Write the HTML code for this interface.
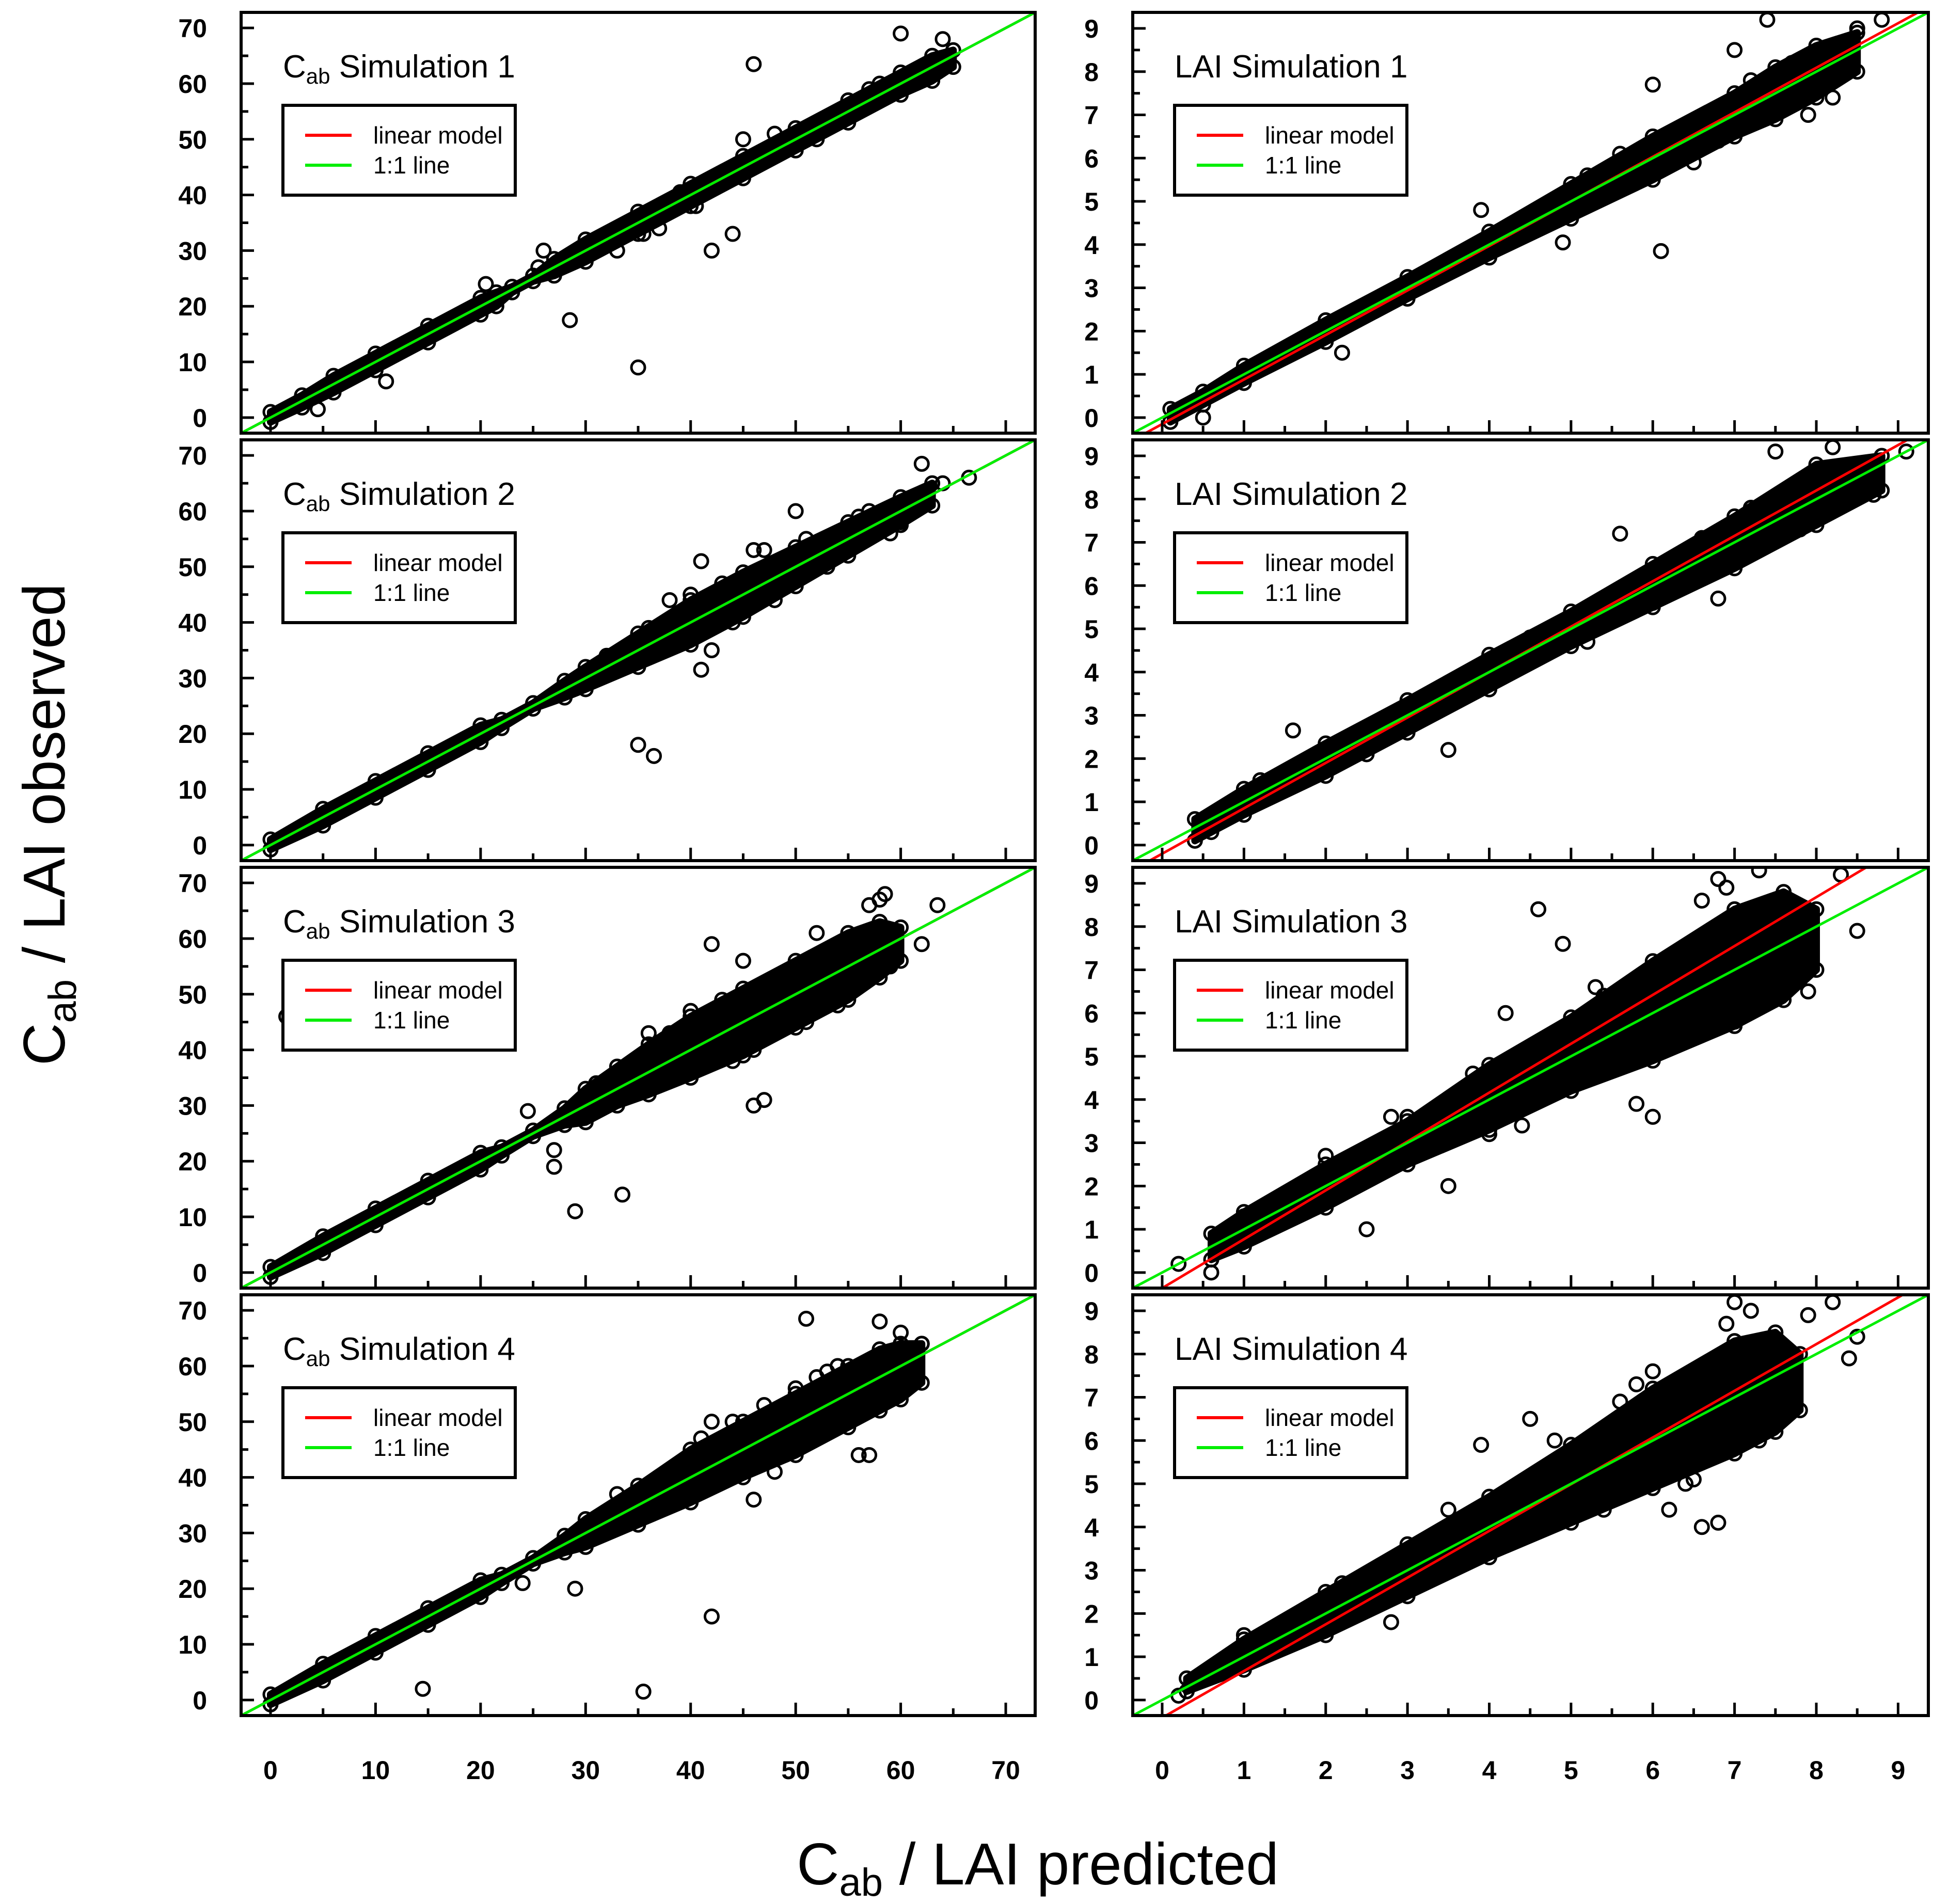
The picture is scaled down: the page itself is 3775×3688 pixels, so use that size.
<!DOCTYPE html>
<html><head><meta charset="utf-8">
<style>
html,body{margin:0;padding:0;background:#fff;}
svg{display:block;}
text{font-family:"Liberation Sans",sans-serif;}
.tick{font-weight:bold;font-size:50px;}
</style></head>
<body>
<svg id="fig" width="3775" height="3688" viewBox="0 0 3775 3688" xmlns="http://www.w3.org/2000/svg">
<text x="0" y="0" transform="translate(125,1597) rotate(-90)" text-anchor="middle" font-size="114">C<tspan font-size="76" dy="22">ab</tspan><tspan dy="-22"> / LAI observed</tspan></text>
<text x="2010" y="3650" text-anchor="middle" font-size="114">C<tspan font-size="76" dy="22">ab</tspan><tspan dy="-22"> / LAI predicted</tspan></text>
</svg>
<script>
// ---- data ----
const titles = ["Simulation 1","Simulation 2","Simulation 3","Simulation 4"];
const cabTicks = [0,10,20,30,40,50,60,70];
const laiTicks = [0,1,2,3,4,5,6,7,8,9];
// linear model slope/intercept per panel
const cabSlope = [1.0,1.0,1.0,1.0];
const cabIntercept = [0,0,0,0];
const laiSlope = [1.03,1.05,1.13,1.08];
const laiIntercept = [-0.15,-0.2,-0.36,-0.41];
// dense band (predicted x, min observed, max observed)
const cabBandX = [
 [0,3,6,10,15,20,21.5,23,25,27,30,35,40,45,50,55,60,63,65],
 [0,5,10,15,20,22,25,28,30,35,40,45,50,55,60,63],
 [0,5,10,15,20,22,25,28,30,33,36,40,45,50,55,58,60],
 [0,5,10,15,20,22,25,28,30,35,40,45,50,55,58,60,62]];
const cabBandLo = [
 [-0.8,1.8,4.5,8.5,13.5,18.5,20,22.5,24.5,25.5,28,33,38,43,48,53,58,60.5,63],
 [-0.8,3.5,8.5,13.5,18.5,21,24.5,26.5,28,32,36,41,46.5,52,57.5,61],
 [-0.8,3.5,8.5,13.5,18.5,21,24.5,26.5,27,30,32,35,39,44,49,53,56],
 [-0.8,3.5,8.5,13.5,18.5,21,24.5,26.5,27.5,31.5,35.5,40,44,49,52,54,57]];
const cabBandHi = [
 [1,4,7.5,11.5,16.5,21.5,22.5,23.5,25.5,28.5,32,37,42,47,52,57,62,65,66],
 [1,6.5,11.5,16.5,21.5,22.5,25.5,29.5,32,38,44,49,53.5,58,62.5,65],
 [1,6.5,11.5,16.5,21.5,22.5,25.5,29.5,33,37,41,46,51,56,61,63,62],
 [1,6.5,11.5,16.5,21.5,22.5,25.5,29.5,32.5,38.5,45,50,55,60,63,64,64]];
const cabOutX = [
 [46,28.5,35,11,4.5,42,33,44,60,64,62,26,39,45,57,25.5,20.5,21.5,35.5,40.5,52,58,31,37,48,55,62.5],
 [35,36.5,41,42,46,41,66.5,64,62,50,46,38,34.5,44,56,40,43,36,48,53,57,60,32,47,51,59],
 [1.5,29,33.5,27,27,46,47,62,63.5,58.5,58,42,45,24.5,52,57,36,38,40,43,48,50,53,55,56,59,34,44,46,51,54,31],
 [42,35.5,14.5,51,58,60,62,56,57,48,29,24,42,46,53,37,39,41,44,47,50,52,54,55,57,59,61,33,45,49]];
const cabOutY = [
 [63.5,17.5,9,6.5,1.5,30,30,33,69,68,62.5,30,40.5,50,59,27,24,21,33,38,50,60,30,34,51,54,62],
 [18,16,31.5,35,53,51,66,65,68.5,60,46,44,35,40,59,45,47,39,44,50,60,58,34,53,55,56],
 [46,11,14,22,19,30,31,59,66,68,67,59,56,29,61,66,43,43,47,49,53,55,58,60,54,55,33,38,40,45,48,34],
 [15,1.5,2,68.5,68,66,64,44,44,41,20,21,50,36,59,34,41,47,50,53,56,58,60,51,52,54,63,37,42,45]];
const laiBandX = [
 [0.1,0.5,1,2,3,4,5,6,7,7.5,8,8.5],
 [0.4,1,2,3,4,5,6,7,8,8.8],
 [0.6,1,2,3,4,5,6,7,7.6,8],
 [0.3,1,2,3,4,5,6,7,7.5,7.8]];
const laiBandLo = [
 [-0.1,0.3,0.8,1.75,2.75,3.7,4.6,5.5,6.5,6.9,7.4,8.0],
 [0.1,0.7,1.6,2.6,3.6,4.6,5.5,6.4,7.4,8.2],
 [0.3,0.6,1.5,2.5,3.3,4.2,4.9,5.7,6.3,7.0],
 [0.2,0.7,1.5,2.4,3.3,4.1,4.9,5.7,6.2,6.7]];
const laiBandHi = [
 [0.2,0.6,1.2,2.25,3.25,4.3,5.4,6.5,7.5,8.1,8.6,8.9],
 [0.6,1.3,2.35,3.35,4.4,5.4,6.5,7.6,8.8,9.0],
 [0.9,1.4,2.5,3.5,4.8,5.9,7.2,8.4,8.8,8.4],
 [0.5,1.4,2.5,3.6,4.7,5.9,7.2,8.3,8.5,8.0]];
const laiOutX = [
 [6.1,4.9,2.2,8.2,8.8,7.4,8.5,0.5,6,7,3.9,5.6,7.9,6.5,7.2,5.2,6.8,8.0,7.7,4.4],
 [1.6,3.5,6.3,8.6,8.4,7.5,8.2,5.6,9.1,0.6,0.5,5.2,6.8,8.7,1.2,2.5,4.5,6.0,7.2,7.8,3.0,6.6],
 [4.6,4.9,6.0,5.8,7.9,7.8,7.3,2.5,3.5,2.8,3.0,0.6,0.2,8.5,6.8,8.3,4.2,5.4,3.8,4.4,5.0,5.6,6.3,6.6,7.0,7.5,2.0,1.0,6.9,5.3,4.0,7.7],
 [3.9,8.2,8.4,8.5,6.8,6.6,7.9,7.0,4.5,5.8,2.8,1.0,0.2,7.6,6.2,7.2,3.5,4.2,5.0,5.4,6.0,6.4,6.9,7.3,2.2,1.5,7.6,6.5,5.6,4.8]];
const laiOutY = [
 [3.85,4.05,1.5,7.4,9.2,9.2,9,0,7.7,8.5,4.8,6.1,7.0,5.9,7.8,5.6,6.4,7.6,8.2,4.6],
 [2.65,2.2,6.1,8.3,8.3,9.1,9.2,7.2,9.1,0.3,0.5,4.7,5.7,8.1,1.5,2.1,4.8,5.6,7.8,7.3,2.8,7.1],
 [8.4,7.6,3.6,3.9,6.5,7.0,9.3,1.0,2.0,3.6,3.6,0.0,0.2,7.9,9.1,9.2,6.0,6.4,4.6,3.4,4.4,4.8,5.3,8.6,5.8,6.5,2.7,1.3,8.9,6.6,3.2,7.0],
 [5.9,9.2,7.9,8.4,4.1,4.0,8.9,9.2,6.5,7.3,1.8,1.5,0.1,6.7,4.4,9.0,4.4,4.6,5.9,4.4,7.6,5.0,8.7,6.0,2.7,1.6,7.2,5.1,6.9,6.0]];

// ---- layout ----
const NS="http://www.w3.org/2000/svg";
const svg=document.getElementById('fig');
const colLeft=[467,2194], colW=[1538,1541], rowTop=24, rowStep=828, panH=815;
const ranges=[[-2.8,72.8],[-0.36,9.37]];
function mk(tag,attrs,parent){const e=document.createElementNS(NS,tag);for(const k in attrs)e.setAttribute(k,attrs[k]);(parent||svg).appendChild(e);return e;}

for(let c=0;c<2;c++){
 for(let r=0;r<4;r++){
  const L=colLeft[c],W=colW[c],T=rowTop+r*rowStep,H=panH;
  const [lo,hi]=ranges[c];
  const sx=v=>L+(v-lo)/(hi-lo)*W;
  const sy=v=>T+H-(v-lo)/(hi-lo)*H;
  const g=mk('g',{});
  
  
  const cid='clip'+c+r;
  const cp=mk('clipPath',{id:cid},g);mk('rect',{x:L,y:T,width:W,height:H},cp);
  const plot=mk('g',{'clip-path':'url(#'+cid+')'},g);
  const bx=c?laiBandX[r]:cabBandX[r], bl=c?laiBandLo[r]:cabBandLo[r], bh=c?laiBandHi[r]:cabBandHi[r];
  let pts=[];
  for(let i=0;i<bx.length;i++)pts.push(sx(bx[i])+','+sy(bh[i]));
  for(let i=bx.length-1;i>=0;i--)pts.push(sx(bx[i])+','+sy(bl[i]));
  const band=mk('polygon',{points:pts.join(' '),fill:'#000',stroke:'#000','stroke-width':14,'stroke-linejoin':'round'},plot);
  
  
  for(let i=0;i<bx.length;i++){
   for(const yy of [bl[i],bh[i]]){
    const ci=mk('circle',{cx:sx(bx[i]),cy:sy(yy),r:13,fill:'none',stroke:'#000','stroke-width':5},plot);
    
    
   }
  }
  const ox=c?laiOutX[r]:cabOutX[r], oy=c?laiOutY[r]:cabOutY[r];
  for(let i=0;i<ox.length;i++){
   const ci=mk('circle',{cx:sx(ox[i]),cy:sy(oy[i]),r:13,fill:'none',stroke:'#000','stroke-width':5},plot);
   
   
  }
  const m=c?laiSlope[r]:cabSlope[r], b=c?laiIntercept[r]:cabIntercept[r];
  const red=mk('line',{x1:sx(lo),y1:sy(m*lo+b),x2:sx(hi),y2:sy(m*hi+b),stroke:'#ff0000','stroke-width':5},plot);
  
  
  const grn=mk('line',{x1:sx(lo),y1:sy(lo),x2:sx(hi),y2:sy(hi),stroke:'#00ee00','stroke-width':5},plot);
  
  
  // ticks
  const ticks=c?laiTicks:cabTicks, step=c?0.5:5;
  for(let v=0;v<=hi;v+=step){
   const major=Math.abs(v-Math.round(v/(2*step))*2*step)<1e-6;
   const len=major?25:14;
   mk('line',{x1:L,y1:sy(v),x2:L+len,y2:sy(v),stroke:'#000','stroke-width':5},g);
   mk('line',{x1:sx(v),y1:T+H,x2:sx(v),y2:T+H-len,stroke:'#000','stroke-width':5},g);
  }
  for(let i=0;i<ticks.length;i++){
   const t=mk('text',{x:L-66,y:sy(ticks[i])+18,'text-anchor':'end','class':'tick'},g);
   t.textContent=ticks[i];
   
   
   if(r===3){
    const tx=mk('text',{x:sx(ticks[i]),y:3446,'text-anchor':'middle','class':'tick'},g);
    tx.textContent=ticks[i];
    
    
   }
  }
  const fr=mk('rect',{x:L,y:T,width:W,height:H,fill:'none',stroke:'#000','stroke-width':6},g);
  
  
  // title
  const tt=mk('text',{x:L+81,y:T+126,'font-size':62},g);
  
  
  if(c===0){tt.innerHTML='C<tspan font-size="42" dy="12">ab</tspan><tspan dy="-12"> '+titles[r]+'</tspan>';}
  else{tt.textContent='LAI '+titles[r];}
  // legend
  const lg=mk('g',{},g);
  
  
  mk('rect',{x:L+81,y:T+180,width:450,height:174,fill:'#fff',stroke:'#000','stroke-width':6},lg);
  mk('line',{x1:L+124,y1:T+238,x2:L+214,y2:T+238,stroke:'#ff0000','stroke-width':6},lg);
  mk('line',{x1:L+124,y1:T+296,x2:L+214,y2:T+296,stroke:'#00ee00','stroke-width':6},lg);
  const t1=mk('text',{x:L+256,y:T+254,'font-size':46},lg);t1.textContent='linear model';
  
  
  const t2=mk('text',{x:L+256,y:T+312,'font-size':46},lg);t2.textContent='1:1 line';
  
  
 }
}
</script>
</body></html>
